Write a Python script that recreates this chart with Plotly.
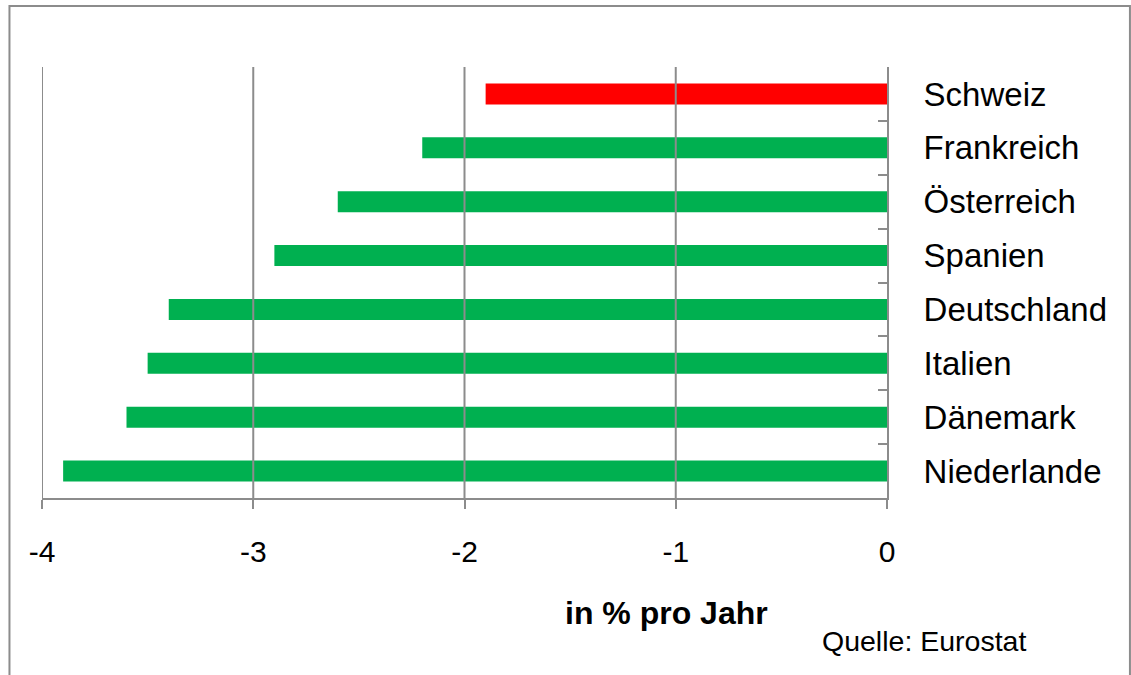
import plotly.graph_objects as go

# Countries from top to bottom and their annual change in percent
countries = ["Schweiz", "Frankreich", "Österreich", "Spanien",
             "Deutschland", "Italien", "Dänemark", "Niederlande"]
values = [-1.9, -2.2, -2.6, -2.9, -3.4, -3.5, -3.6, -3.9]
x_ticks = [-4, -3, -2, -1, 0]

RED = "#FF0000"
GREEN = "#00B050"
GRID = "#8C8C8C"
FONT = "Arial, Liberation Sans, sans-serif"

colors = [RED if c == "Schweiz" else GREEN for c in countries]

fig = go.Figure(go.Bar(
    x=values,
    y=countries,
    orientation="h",
    marker=dict(color=colors, line=dict(width=0)),
    hoverinfo="x+y",
))

# vertical grid lines drawn over the bars
shapes = [
    dict(type="line", xref="x", yref="paper", x0=t, x1=t, y0=0, y1=1,
         line=dict(color=GRID, width=2), layer="above")
    for t in x_ticks[:-1]
]
# outer frame around the chart
shapes.append(dict(type="rect", xref="paper", yref="paper",
                   x0=-0.0385, x1=1.2875, y0=-0.43, y1=1.1415,
                   line=dict(color=GRID, width=2), fillcolor="rgba(0,0,0,0)",
                   layer="below"))

fig.update_layout(
    width=1131,
    height=675,
    margin=dict(l=42, r=244, t=67, b=177),
    paper_bgcolor="white",
    plot_bgcolor="white",
    bargap=0.61,
    showlegend=False,
    font=dict(family=FONT, color="black"),
    shapes=shapes,
    xaxis=dict(
        range=[-4, 0],
        tickvals=x_ticks,
        ticktext=[str(t) for t in x_ticks],
        showgrid=False,
        zeroline=False,
        showline=True,
        linecolor=GRID,
        linewidth=2,
        ticks="outside",
        ticklen=9,
        tickwidth=2,
        tickcolor=GRID,
        tickfont=dict(size=30, family=FONT, color="black"),
        ticklabelstandoff=17,
        fixedrange=True,
    ),
    yaxis=dict(
        categoryorder="array",
        categoryarray=countries,
        autorange="reversed",
        side="right",
        showgrid=False,
        zeroline=False,
        showline=True,
        linecolor=GRID,
        linewidth=2,
        ticks="inside",
        tickson="boundaries",
        ticklen=9,
        tickwidth=2,
        tickcolor=GRID,
        tickfont=dict(size=33, family=FONT, color="black"),
        ticklabelstandoff=28,
        fixedrange=True,
    ),
    annotations=[
        dict(text="<b>in % pro Jahr</b>", xref="paper", yref="paper",
             x=0.7396, y=-0.267, xanchor="center", yanchor="middle",
             showarrow=False, font=dict(size=32, family=FONT, color="black")),
        dict(text="Quelle: Eurostat", xref="paper", yref="paper",
             x=0.9205, y=-0.332, xanchor="left", yanchor="middle",
             showarrow=False, font=dict(size=28.5, family=FONT, color="black")),
    ],
)

fig.write_html("out.html")
